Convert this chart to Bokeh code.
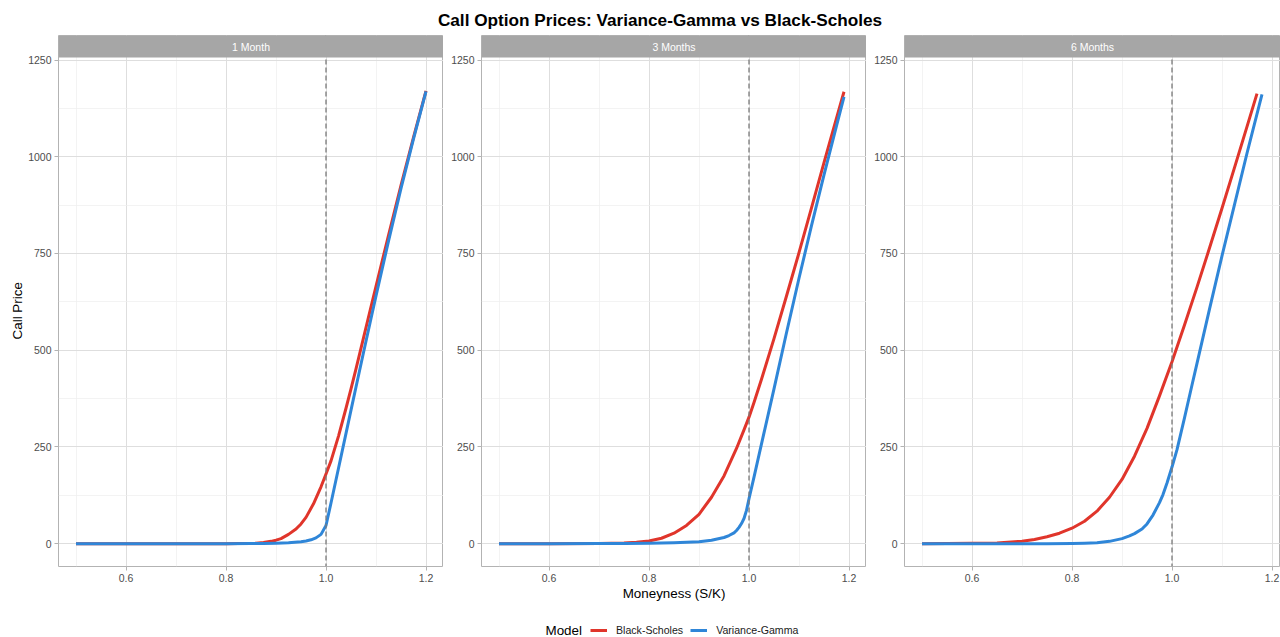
import math
from bokeh.plotting import figure
from bokeh.layouts import column, row
from bokeh.models import (Range1d, FixedTicker, BoxAnnotation, Label, Span, Legend,
                          LegendItem, NumeralTickFormatter)
from bokeh.embed import file_html
from bokeh.resources import INLINE

# ---------------- data ----------------
title_text = "Call Option Prices: Variance-Gamma vs Black-Scholes"
panel_names = ["1 Month", "3 Months", "6 Months"]
series_names = ["Black-Scholes", "Variance-Gamma"]
x_title = "Moneyness (S/K)"
y_title = "Call Price"
legend_title = "Model"

m_1m_bs = [0.5, 0.6, 0.7, 0.75, 0.8, 0.825, 0.85, 0.86, 0.875, 0.89, 0.9, 0.91, 0.925, 0.94,
           0.95, 0.96, 0.975, 0.99, 1.0, 1.01, 1.025, 1.04, 1.05, 1.06, 1.075, 1.09, 1.1,
           1.125, 1.15, 1.175, 1.2]
bs_1m = [0, 0, 0, 0, 0.1, 0.3, 0.6, 1.2, 3, 6, 9, 13, 24, 38,
         51, 68, 103, 147, 180, 214, 278, 350, 400, 452, 532, 612, 665,
         797, 926, 1050, 1170]
m_1m_vg = [0.5, 0.6, 0.7, 0.75, 0.8, 0.85, 0.875, 0.9, 0.925, 0.95, 0.96, 0.97, 0.98, 0.99,
           1.0, 1.01, 1.025, 1.04, 1.05, 1.06, 1.075, 1.09, 1.1, 1.125, 1.15, 1.175, 1.2]
vg_1m = [0, 0, 0, 0, 0, 0.2, 0.5, 1.2, 2.5, 5, 7, 10, 15, 24,
         47, 105, 195, 285, 345, 405, 494, 582, 640, 782, 918, 1046, 1169]

m_3m_bs = [0.5, 0.6, 0.7, 0.75, 0.775, 0.8, 0.825, 0.85, 0.875, 0.9, 0.925, 0.95, 0.975,
           0.99, 1.0, 1.01, 1.025, 1.05, 1.075, 1.1, 1.125, 1.15, 1.175, 1.19]
bs_3m = [0, 0, 0.3, 1.5, 3.5, 7, 14, 27, 47, 76, 120, 175, 246,
         294, 327, 365, 425, 530, 640, 752, 868, 985, 1100, 1168]
m_3m_vg = [0.5, 0.6, 0.7, 0.75, 0.8, 0.85, 0.875, 0.9, 0.925, 0.95, 0.96, 0.97, 0.975, 0.98,
           0.985, 0.99, 0.995, 1.0, 1.01, 1.025, 1.05, 1.075, 1.1, 1.125, 1.15, 1.175, 1.19]
vg_3m = [0, 0, 0.2, 0.5, 1.2, 2.5, 3.5, 5, 9, 16, 21, 28, 34, 42,
         52, 65, 86, 116, 172, 258, 400, 545, 686, 822, 953, 1080, 1155]

m_6m_bs = [0.5, 0.55, 0.6, 0.65, 0.7, 0.725, 0.75, 0.775, 0.8, 0.825, 0.85, 0.875, 0.9,
           0.925, 0.95, 0.975, 1.0, 1.025, 1.05, 1.075, 1.1, 1.125, 1.15, 1.17]
bs_6m = [0.1, 0.3, 0.8, 2, 6.5, 11, 18, 27, 40, 58, 84, 120, 166,
         226, 298, 382, 470, 565, 663, 764, 867, 972, 1078, 1163]
m_6m_vg = [0.5, 0.6, 0.7, 0.75, 0.8, 0.825, 0.85, 0.875, 0.9, 0.915, 0.925, 0.94, 0.95,
           0.962, 0.975, 0.982, 0.99, 1.0, 1.01, 1.025, 1.04, 1.05, 1.075, 1.1, 1.125,
           1.15, 1.175, 1.18]
vg_6m = [0, 0, 0, 0.1, 0.5, 1.2, 2.5, 6, 13, 20, 26, 38, 51,
         74, 106, 127, 157, 198, 243, 325, 410, 466, 606, 744, 876,
         1009, 1136, 1161]

x_ticks = [0.6, 0.8, 1.0, 1.2]
x_minor = [0.5, 0.7, 0.9, 1.1]
y_ticks = [0, 250, 500, 750, 1000, 1250]
y_minor = [125, 375, 625, 875, 1125]
strike_moneyness = 1.0

# ---------------- style ----------------
FONT = "Liberation Sans"
RED = "#E0352B"
BLUE = "#2F86D8"
STRIP = "#A6A6A6"
BORDER = "#B3B3B3"
GRID = "#DEDEDE"
GRID_MINOR = "#EEEEEE"
TICK_TEXT = "#4D4D4D"

TITLE_H = 35
BOTTOM_H = 39
Y_LO, Y_PANEL_HI = -59.0, 1256.5
PANEL_PX, STRIP_PX = 509, 22
FRAME_H = PANEL_PX + STRIP_PX
UNITS_PER_PX = (Y_PANEL_HI - Y_LO) / PANEL_PX
Y_HI = Y_PANEL_HI + STRIP_PX * UNITS_PER_PX
YLAB_W = 25

panel_data = [
    (m_1m_bs, bs_1m, m_1m_vg, vg_1m),
    (m_3m_bs, bs_3m, m_3m_vg, vg_3m),
    (m_6m_bs, bs_6m, m_6m_vg, vg_6m),
]
x_ranges = [(0.465, 1.235), (0.465, 1.235), (0.465, 1.217)]
frame_widths = [385, 385, 376]
left_borders = [58 - YLAB_W, 38, 38]

figs = []
for i, name in enumerate(panel_names):
    mb, bs, mv, vg = panel_data[i]
    p = figure(frame_width=frame_widths[i], frame_height=FRAME_H,
               x_range=Range1d(*x_ranges[i]), y_range=Range1d(Y_LO, Y_HI),
               output_backend="svg", toolbar_location=None,
               min_border_left=left_borders[i], min_border_right=0,
               min_border_top=0, min_border_bottom=BOTTOM_H,
               background_fill_color="white", border_fill_color="white",
               outline_line_color=BORDER, outline_line_width=1)

    p.xaxis.ticker = FixedTicker(ticks=x_ticks, minor_ticks=x_minor)
    p.yaxis.ticker = FixedTicker(ticks=y_ticks, minor_ticks=y_minor)
    p.xaxis.formatter = NumeralTickFormatter(format="0.0")
    p.yaxis.formatter = NumeralTickFormatter(format="0")
    for ax in (p.xaxis[0], p.yaxis[0]):
        ax.axis_line_color = None
        ax.major_tick_line_color = BORDER
        ax.major_tick_out = 4
        ax.major_tick_in = 0
        ax.minor_tick_line_color = None
        ax.major_label_text_font = FONT
        ax.major_label_text_font_size = "10.5px"
        ax.major_label_text_color = TICK_TEXT
        ax.major_label_standoff = 3
        ax.axis_label_text_font = FONT
        ax.axis_label_text_font_size = "13.4px"
        ax.axis_label_text_font_style = "normal"
        ax.axis_label_text_color = "black"
    for g in (p.xgrid[0], p.ygrid[0]):
        g.grid_line_color = GRID
        g.grid_line_width = 1
        g.minor_grid_line_color = GRID_MINOR
        g.minor_grid_line_width = 0.7

    if i == 1:
        p.xaxis.axis_label = x_title
        p.xaxis.axis_label_standoff = 1

    p.line(mb, bs, line_color=RED, line_width=3, line_join="round")
    p.line(mv, vg, line_color=BLUE, line_width=3, line_join="round")

    p.add_layout(Span(location=strike_moneyness, dimension="height", line_color="#7A7A7A",
                      line_dash="5 3", line_width=1.3))
    p.add_layout(BoxAnnotation(bottom=Y_PANEL_HI, top=Y_HI, fill_color=STRIP, fill_alpha=1,
                               line_color=None))
    xc = (x_ranges[i][0] + x_ranges[i][1]) / 2
    p.add_layout(Label(x=xc, y=(Y_PANEL_HI + Y_HI) / 2, text=name, text_align="center",
                       text_baseline="middle", text_color="white", text_font=FONT,
                       text_font_size="10.5px"))
    figs.append(p)

# y-axis title column (centred on the panels, below the strips)
row_h = FRAME_H + BOTTOM_H
yl = figure(width=YLAB_W, height=row_h, x_range=Range1d(0, YLAB_W), y_range=Range1d(0, row_h),
            output_backend="svg", toolbar_location=None, min_border=0,
            outline_line_color=None, x_axis_type=None, y_axis_type=None)
yl.add_layout(Label(x=17, y=BOTTOM_H + PANEL_PX / 2 - 19, text=y_title, angle=math.pi / 2,
                    text_align="center", text_baseline="middle", text_font=FONT,
                    text_font_size="13.4px", text_color="black"))

# title strip
t = figure(width=1280, height=TITLE_H, x_range=Range1d(0, 1280), y_range=Range1d(0, TITLE_H),
           output_backend="svg", toolbar_location=None, min_border=0,
           outline_line_color=None, x_axis_type=None, y_axis_type=None)
t.add_layout(Label(x=659.5, y=16, text=title_text, text_align="center", text_baseline="middle",
                   text_font=FONT, text_font_size="17.2px", text_font_style="bold",
                   text_color="black"))

# legend strip
lf = figure(width=1280, height=32, x_range=Range1d(0, 1280), y_range=Range1d(0, 32),
            output_backend="svg", toolbar_location=None, min_border=0,
            outline_line_color=None, x_axis_type=None, y_axis_type=None)
r_bs = lf.line(x=[-20, -10], y=[-50, -50], line_color=RED, line_width=3)
r_vg = lf.line(x=[-20, -10], y=[-50, -50], line_color=BLUE, line_width=3)
legend = Legend(items=[LegendItem(label=series_names[0], renderers=[r_bs]),
                       LegendItem(label=series_names[1], renderers=[r_vg])],
                orientation="horizontal", location=(590, 0), glyph_width=17, glyph_height=14,
                label_height=14, label_standoff=9, spacing=7, padding=0, margin=0,
                border_line_color=None, background_fill_alpha=0,
                label_text_font=FONT, label_text_font_size="10.6px",
                label_text_color="#1A1A1A", label_text_baseline="middle")
lf.add_layout(legend)
lf.add_layout(Label(x=545, y=7, text=legend_title, text_baseline="middle", text_font=FONT,
                    text_font_size="13.4px", text_color="black"))

layout = column(t, row(yl, *figs), lf)
open("out.html", "w").write(file_html(layout, INLINE))
